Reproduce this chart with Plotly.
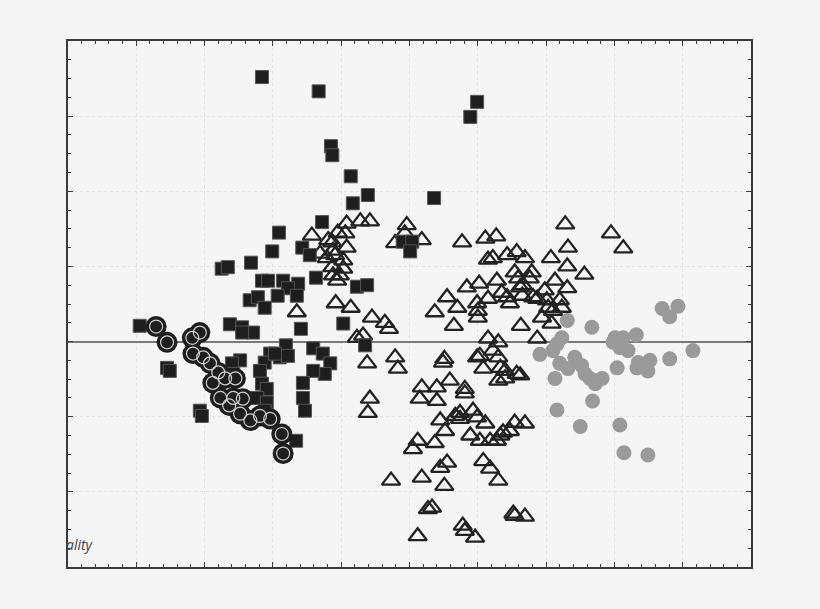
import plotly.graph_objects as go

# group 1: filled squares
sq_x = [-2.16, -1.33, 0.99, 0.89, -1.15, -1.13, -0.86, -0.61, -0.83, 0.36, -1.28, -1.91,
        -2.01, -1.57, -1.46, -2.32, -2.75, -2.66, -1.37, -2.16, -2.07, -1.85, -1.63, -1.78,
        -1.65, -1.93, -2.34, -2.22, -2.12, -0.77, -0.62, -2.63, -2.45, -2.29, -2.45, -1.59,
        -0.97, -3.95, -0.10, 0.04, 0.01, -0.65, -1.81, -2.04, -1.90, -1.78, -2.12, -1.41,
        -1.27, -1.16, -1.24, -1.41, -1.56, -1.56, -1.53, -2.19, -2.16, -2.09, -2.23, -2.09,
        -2.12, -2.48, -2.60, -2.58, -3.55, -3.51, -3.07, -3.04, -1.66, -1.97]
sq_y = [3.52, 3.33, 3.19, 2.99, 2.60, 2.48, 2.20, 1.95, 1.84, 1.91, 1.59, 1.45,
        1.20, 1.25, 1.15, 1.05, 0.97, 0.99, 0.85, 0.81, 0.81, 0.81, 0.77, 0.71,
        0.61, 0.61, 0.55, 0.59, 0.45, 0.73, 0.75, 0.23, 0.19, 0.12, 0.12, 0.17,
        0.24, 0.21, 1.33, 1.33, 1.20, -0.05, -0.05, -0.16, -0.21, -0.19, -0.28, -0.09,
        -0.16, -0.29, -0.43, -0.39, -0.55, -0.75, -0.92, -0.39, -0.56, -0.63, -0.75, -0.81,
        -0.92, -0.25, -0.29, -0.43, -0.35, -0.39, -0.92, -0.99, -1.32, -0.16]

# group 2: ringed circles
ring_x = [-3.71, -3.55, -3.18, -3.07, -3.17, -2.92, -2.80, -2.88, -2.70, -2.55, -2.77,
          -2.58, -2.44, -2.64, -2.48, -2.33, -2.19, -2.04, -1.87, -1.85, -3.02]
ring_y = [0.20, -0.01, 0.05, 0.12, -0.16, -0.29, -0.41, -0.55, -0.49, -0.49, -0.75,
          -0.75, -0.76, -0.85, -0.96, -1.05, -0.99, -1.03, -1.23, -1.49, -0.21]

# group 3: open triangles
tri_x = [-0.04, -0.21, -0.07, 0.18, 0.77, 1.11, 1.27, 2.28, 2.95, 3.13, 1.15, 1.22,
         1.43, 1.57, 1.69, 2.07, 2.32, 2.31, 2.56, 1.54, 1.59, 1.79, 1.76, 1.28,
         0.84, 1.02, 0.55, 0.37, 0.70, 0.65, 0.99, 1.00, 1.00, 1.15, 1.35, 1.43,
         1.47, 1.62, 1.66, 1.65, 1.81, 1.87, 1.98, 2.01, 2.03, 2.10, 2.13, 2.31,
         2.20, 2.23, 1.94, 2.08, 1.63, 1.87, -0.36, -0.30, 1.15, 1.30, 1.22, 1.30,
         0.99, 1.03, 1.08, 1.33, 1.40, 1.57, 1.30, 1.40, 0.51, -0.21, -0.17, 0.18,
         0.40, 0.59, 0.81, -0.62, -0.58, -0.61, 0.15, 0.40, 0.81, 0.67, 0.74, 0.74,
         0.93, 0.99, 1.11, 0.45, 0.52, 0.89, 1.03, 1.18, 1.28, 1.33, 1.37, 1.47,
         1.54, 1.69, 0.37, 0.12, 0.05, 0.45, 0.55, 0.18, -0.27, 0.51, 1.08, 1.18,
         1.30, 0.27, 0.33, 0.12, 0.78, 0.81, 0.96, 1.52, 1.54, 1.69, 1.62, 0.49,
         -1.43, -0.92, -0.72, -0.58, -1.05, -0.94, -1.19, -1.13, -0.92, -1.31, -1.12, -1.09,
         -1.21, -0.97, -1.13, -0.97, -1.12, -1.02, -1.06, -1.08, -0.86, -1.65, -0.55, -0.77,
         -0.68]
tri_y = [1.55, 1.31, 1.44, 1.35, 1.32, 1.37, 1.40, 1.56, 1.44, 1.24, 1.09, 1.11,
         1.15, 1.19, 1.11, 1.11, 1.25, 1.00, 0.89, 0.92, 0.84, 0.92, 0.84, 0.81,
         0.72, 0.77, 0.59, 0.39, 0.45, 0.21, 0.51, 0.41, 0.32, 0.57, 0.65, 0.59,
         0.51, 0.72, 0.75, 0.61, 0.59, 0.57, 0.68, 0.55, 0.45, 0.41, 0.81, 0.71,
         0.55, 0.45, 0.32, 0.24, 0.21, 0.04, 0.25, 0.17, 0.04, -0.01, -0.12, -0.21,
         -0.21, -0.19, -0.36, -0.35, -0.39, -0.43, -0.52, -0.49, -0.23, -0.21, -0.36, -0.61,
         -0.61, -0.52, -0.63, -0.29, -0.76, -0.95, -0.76, -0.79, -0.69, -0.99, -0.95, -1.03,
         -0.92, -1.01, -1.09, -1.05, -1.19, -1.25, -1.32, -1.32, -1.32, -1.25, -1.21, -1.19,
         -1.08, -1.09, -1.35, -1.32, -1.43, -1.68, -1.61, -1.81, -1.85, -1.92, -1.59, -1.69,
         -1.85, -2.23, -2.21, -2.59, -2.45, -2.52, -2.61, -2.29, -2.32, -2.33, -0.45, -0.28,
         1.41, 1.57, 1.60, 1.60, 1.45, 1.44, 1.35, 1.32, 1.25, 1.17, 1.21, 1.15,
         1.11, 1.08, 0.99, 0.97, 0.88, 0.88, 0.81, 0.51, 0.45, 0.39, 0.32, 0.05,
         0.08]

# group 4: grey dots
dot_x = [3.70, 3.93, 3.81, 2.31, 2.67, 3.32, 3.01, 3.13, 2.98, 3.08, 3.20, 4.15,
         2.23, 2.16, 2.10, 1.91, 2.42, 2.20, 2.32, 2.52, 2.57, 2.64, 2.74, 2.82,
         2.72, 3.04, 3.35, 3.52, 3.49, 3.33, 3.81, 2.13, 2.68, 2.16, 2.50, 3.08,
         3.14, 3.49]
dot_y = [0.44, 0.47, 0.33, 0.28, 0.19, 0.09, 0.05, 0.05, -0.01, -0.08, -0.12, -0.12,
         0.05, -0.03, -0.12, -0.17, -0.21, -0.29, -0.36, -0.32, -0.43, -0.49, -0.52, -0.49,
         -0.56, -0.35, -0.28, -0.25, -0.39, -0.35, -0.23, -0.49, -0.79, -0.91, -1.13, -1.11,
         -1.48, -1.51]

fig = go.Figure()

fig.add_trace(go.Scatter(x=dot_x, y=dot_y, mode='markers',
                         marker=dict(symbol='circle', size=15, color='#9a9a9a',
                                     line=dict(width=0))))
fig.add_trace(go.Scatter(x=tri_x, y=tri_y, mode='markers',
                         marker=dict(symbol='triangle-up-open', size=16, color='#222222',
                                     line=dict(width=2.3))))
fig.add_trace(go.Scatter(x=sq_x, y=sq_y, mode='markers',
                         marker=dict(symbol='square', size=13, color='#1e1e1e',
                                     line=dict(width=1, color='#555555'))))
# ringed circles: black disc with a light ring inside
fig.add_trace(go.Scatter(x=ring_x, y=ring_y, mode='markers',
                         marker=dict(symbol='circle', size=21, color='#1e1e1e',
                                     line=dict(width=0))))
fig.add_trace(go.Scatter(x=ring_x, y=ring_y, mode='markers',
                         marker=dict(symbol='circle-open', size=13, color='#cfcfcf',
                                     line=dict(width=1.2))))

axis_common = dict(showline=True, linecolor='#3a3a3a', linewidth=1.5, mirror='ticks',
                   ticks='inside', ticklen=5, tickcolor='#3a3a3a', tickwidth=1.3,
                   showticklabels=False, showgrid=True, gridcolor='#e2e2e2',
                   griddash='dot', gridwidth=1)

fig.update_xaxes(range=[-5, 5], dtick=1, tick0=0, zeroline=False,
                 minor=dict(dtick=0.2, ticks='inside', ticklen=3, tickcolor='#3a3a3a',
                            showgrid=False),
                 **axis_common)
fig.update_yaxes(range=[-3, 4], dtick=1, tick0=0,
                 zeroline=True, zerolinecolor='#7a7a7a', zerolinewidth=1.5,
                 minor=dict(dtick=0.25, ticks='inside', ticklen=3, tickcolor='#3a3a3a',
                            showgrid=False),
                 **axis_common)

fig.add_annotation(text='ality', xref='paper', yref='paper', x=-0.006, y=0.042,
                   xanchor='left', yanchor='middle', showarrow=False,
                   font=dict(family='Open Sans', size=14, color='#444444', style='italic'))

fig.update_layout(width=820, height=609, showlegend=False,
                  margin=dict(l=68, r=69, t=41, b=42),
                  paper_bgcolor='#f5f5f5', plot_bgcolor='#f5f5f5',
                  font=dict(family='Open Sans'))

fig.write_html("out.html", config={'displayModeBar': False},
               post_script="document.body.style.margin='0';document.body.style.background='#f5f5f5';")
